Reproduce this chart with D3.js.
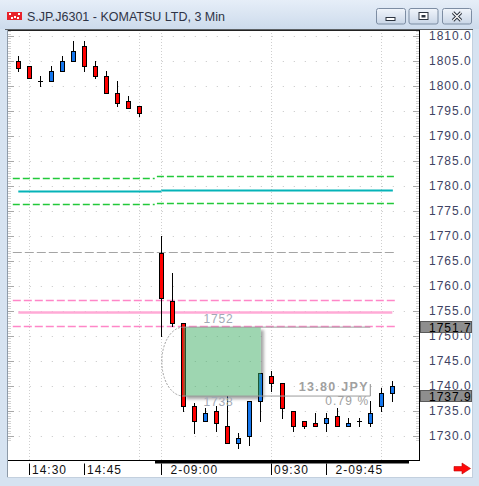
<!DOCTYPE html>
<html>
<head>
<meta charset="utf-8">
<script src="https://cdn.jsdelivr.net/npm/d3@7"></script>
<style>
  html, body { margin: 0; padding: 0; background: #d6e3f1; overflow: hidden; }
  svg { display: block; }
  text { font-family: "Liberation Sans", Arial, sans-serif; }
</style>
</head>
<body>
<svg id="chart" width="479" height="486"></svg>
<script>
// ---- data -------------------------------------------------------------
const windowTitle = "S.JP.J6301 - KOMATSU LTD, 3 Min";

// slot index of each 3-minute bar; slot 12 is the overnight break
const barSlots = [0,1,2,3,4,5,6,7,8,9,10,11,
                  13,14,15,16,17,18,19,20,21,22,23,24,25,26,27,28,29,30,31,32,33,34];
const barOpen  = [1805,1804,1801,1801,1803,1805,1808,1804,1802,1798.5,1797,1796,
                  1766.5,1757,1752.5,1736,1733,1735,1732,1728.5,1730,1737,1742,1740.5,1735,1733,1732.5,1732.5,1734,1732,1733,1732.5,1736,1738.5];
const barHigh  = [1806,1804,1802,1804,1806,1809,1809,1805,1803,1801,1798,1796,
                  1770,1762.5,1752.5,1736.5,1735.5,1736,1738,1730.5,1737,1742.5,1743,1740.5,1735,1733,1734.5,1734.5,1735.5,1733.5,1733.5,1737,1739.5,1741];
const barLow   = [1803,1801.5,1800,1801,1803,1805,1803,1801.5,1798.5,1796,1795.5,1794,
                  1750,1752,1735,1730.5,1733,1731,1728.5,1727.5,1728,1733,1739,1733.5,1731,1731.5,1732,1731,1732,1732,1732,1732,1735,1737];
const barClose = [1803.5,1801.5,1801,1803,1805,1807,1804,1802,1798.5,1796.5,1795.5,1794.5,
                  1757.5,1752.5,1736,1733,1734.5,1732.5,1728.5,1729.5,1737,1742.5,1740.5,1735.5,1732,1732,1732,1733.5,1732,1732.5,1733,1734.5,1738.5,1740];

// price axis
const priceTicks = d3.range(1730, 1810.01, 5);
const priceMinor = d3.range(1729, 1811.01, 0.5);

// time axis
const timeTickSlots  = [1, 6, 13, 23, 28];
const timeTickLabels = ["14:30", "14:45", "2-09:00", "09:30", "2-09:45"];
const timeGridSlots  = [1, 11, 13, 23, 33];

// study lines: value, slot span, kind
const levelValues = [1781.6, 1781.9, 1779.0, 1779.25, 1776.4, 1776.6, 1766.7, 1757.1, 1754.7, 1752.0];
const levelFrom   = [-0.5, 12.6, 0, 13, -0.5, 12.6, -0.5, -0.5, 0, -0.5];
const levelTo     = [12.4, 34.4, 13, 34.05, 12.4, 34.4, 34.4, 34.4, 34, 34.4];
const levelKinds  = ["band", "band", "mid", "mid", "band", "band", "gray", "pink", "pinkSolid", "pink"];

// price-range measurement
const measureHigh = 1751.7;
const measureLow = 1737.9;
const measureFromSlot = 15;
const measureBoxToSlot = 22;
const measureLineToSlot = 32;

// ---- layout -------------------------------------------------------------
const W = 479, H = 486;
const plot = { left: 8, right: 419, top: 30, bottom: 460 };

const svg = d3.select("#chart");
const x = d3.scaleLinear().domain([0, 34]).range([18.3, 392.3]);
const y = d3.scaleLinear().domain([1730, 1810]).range([435.5, 36]);
const px = v => Math.round(x(v));
const py = v => Math.round(y(v));

const defs = svg.append("defs");
const tg = defs.append("linearGradient").attr("id", "titleGrad").attr("x1", 0).attr("y1", 0).attr("x2", 0).attr("y2", 1);
tg.append("stop").attr("offset", "0%").attr("stop-color", "#e6eef8");
tg.append("stop").attr("offset", "100%").attr("stop-color", "#cddbec");
const bg = defs.append("linearGradient").attr("id", "btnGrad").attr("x1", 0).attr("y1", 0).attr("x2", 0).attr("y2", 1);
bg.append("stop").attr("offset", "0%").attr("stop-color", "#f1f5fb");
bg.append("stop").attr("offset", "100%").attr("stop-color", "#c9d6e7");
defs.append("filter").attr("id", "soft").attr("x", "-20%").attr("y", "-20%").attr("width", "140%").attr("height", "140%")
  .append("feGaussianBlur").attr("stdDeviation", 1.6);
defs.append("clipPath").attr("id", "plotClip")
  .append("rect").attr("x", plot.left).attr("y", plot.top).attr("width", plot.right - plot.left).attr("height", plot.bottom - plot.top);

// window frame
svg.append("rect").attr("width", W).attr("height", H).attr("fill", "#d6e3f1");
svg.append("rect").attr("width", W).attr("height", 29).attr("fill", "url(#titleGrad)");
svg.append("rect").attr("x", 8).attr("y", 30).attr("width", 464).attr("height", 447).attr("fill", "#ffffff");
svg.append("line").attr("x1", 5).attr("x2", 473).attr("y1", 29.5).attr("y2", 29.5).attr("stroke", "#5e6266");
svg.append("line").attr("x1", 7.5).attr("x2", 7.5).attr("y1", 30).attr("y2", 477).attr("stroke", "#8d9aa8");
svg.append("line").attr("x1", 472.5).attr("x2", 472.5).attr("y1", 30).attr("y2", 477).attr("stroke", "#c3d0de");
svg.append("line").attr("x1", 7).attr("x2", 473).attr("y1", 477.5).attr("y2", 477.5).attr("stroke", "#c3d0de");

// ---- grid -----------------------------------------------------------------
const grid = svg.append("g").attr("clip-path", "url(#plotClip)");
grid.selectAll("line.hgrid").data(priceTicks).join("line")
  .attr("class", "hgrid")
  .attr("x1", x(-1) + 0.5).attr("x2", plot.right)
  .attr("y1", d => py(d) + 0.5).attr("y2", d => py(d) + 0.5)
  .attr("stroke", "#c4c4c4").attr("stroke-dasharray", "1,10");
grid.selectAll("line.vgrid").data(timeGridSlots).join("line")
  .attr("class", "vgrid")
  .attr("x1", d => px(d) + 0.5).attr("x2", d => px(d) + 0.5)
  .attr("y1", plot.top).attr("y2", plot.bottom)
  .attr("stroke", "#cfcfcf").attr("stroke-dasharray", "1,2");

// edge scale ticks
const edgeTicks = svg.append("g");
[[plot.left, 1], [plot.right, -1]].forEach(([ex, dir]) => {
  edgeTicks.selectAll(null).data(priceMinor).join("line")
    .attr("x1", ex).attr("x2", d => ex + dir * (d % 5 === 0 ? 6 : 3))
    .attr("y1", d => py(d) + 0.5).attr("y2", d => py(d) + 0.5)
    .attr("stroke", d => d % 5 === 0 ? "#a8a8a8" : "#d2d2d2");
});

// ---- study lines ------------------------------------------------------------
const levelStyle = {
  band:      { stroke: "#22c93a", width: 1.3, dash: "7,3" },
  mid:       { stroke: "#05b3b8", width: 2.2, dash: null },
  gray:      { stroke: "#a4a4a4", width: 1.2, dash: "9,3" },
  pink:      { stroke: "#ff86c8", width: 1.3, dash: "8,3" },
  pinkSolid: { stroke: "#ffaad6", width: 2.4, dash: null }
};
svg.append("g").selectAll("line").data(levelValues.map((v, i) => ({ v, a: levelFrom[i], b: levelTo[i], k: levelKinds[i] })))
  .join("line")
  .attr("x1", d => x(d.a)).attr("x2", d => x(d.b))
  .attr("y1", d => py(d.v) + 0.5).attr("y2", d => py(d.v) + 0.5)
  .attr("stroke", d => levelStyle[d.k].stroke)
  .attr("stroke-width", d => levelStyle[d.k].width)
  .attr("stroke-dasharray", d => levelStyle[d.k].dash);

// ---- measurement box geometry -------------------------------------------------
const bx0 = x(measureFromSlot), bx1 = x(measureBoxToSlot) + 0.5;
const by0 = y(measureHigh), by1 = y(measureLow);

// soft shadow, kept outside the box itself
defs.append("clipPath").attr("id", "outsideBox").append("path")
  .attr("clip-rule", "evenodd")
  .attr("d", `M0,0H${W}V${H}H0Z M${bx0},${by0}H${bx1}V${by1}H${bx0}Z`);
svg.append("g").attr("clip-path", "url(#outsideBox)")
  .append("rect")
  .attr("x", bx0 + 3).attr("y", by0 + 3).attr("width", bx1 - bx0).attr("height", by1 - by0)
  .attr("fill", "#8a8a8a").attr("opacity", 0.75).attr("filter", "url(#soft)");

// ---- candles --------------------------------------------------------------------
const bars = barSlots.map((s, i) => ({ s, o: barOpen[i], h: barHigh[i], l: barLow[i], c: barClose[i] }));
const upColor = "#1677ee", downColor = "#ff0000";
const cg = svg.append("g").attr("shape-rendering", "crispEdges");
cg.selectAll("line.wick").data(bars).join("line")
  .attr("class", "wick")
  .attr("x1", d => px(d.s) + 0.5).attr("x2", d => px(d.s) + 0.5)
  .attr("y1", d => py(d.h)).attr("y2", d => py(d.l) + 1)
  .attr("stroke", "#000");
cg.selectAll("rect.body").data(bars.filter(d => d.o !== d.c)).join("rect")
  .attr("class", "body")
  .attr("x", d => px(d.s) - 1.5).attr("width", 4)
  .attr("y", d => py(Math.max(d.o, d.c)) + 0.5)
  .attr("height", d => Math.max(1, py(Math.min(d.o, d.c)) - py(Math.max(d.o, d.c))))
  .attr("fill", d => d.c > d.o ? upColor : downColor)
  .attr("stroke", "#000");
cg.selectAll("line.doji").data(bars.filter(d => d.o === d.c)).join("line")
  .attr("class", "doji")
  .attr("x1", d => px(d.s) - 2).attr("x2", d => px(d.s) + 3)
  .attr("y1", d => py(d.o) + 0.5).attr("y2", d => py(d.o) + 0.5)
  .attr("stroke", "#000");

// ---- measurement overlay -----------------------------------------------------------
svg.append("rect")
  .attr("x", bx0).attr("y", by0).attr("width", bx1 - bx0).attr("height", by1 - by0)
  .attr("fill", "rgb(61,173,99)").attr("fill-opacity", 0.5);
[measureHigh, measureLow].forEach(v => {
  svg.append("line")
    .attr("x1", bx0).attr("x2", x(measureLineToSlot))
    .attr("y1", y(v)).attr("y2", y(v))
    .attr("stroke", "#9c9c9c").attr("stroke-width", 1);
});
svg.append("line")
  .attr("x1", x(measureLineToSlot)).attr("x2", x(measureLineToSlot))
  .attr("y1", by1 - 12).attr("y2", by1)
  .attr("stroke", "#8c8c8c");
svg.append("path")
  .attr("d", `M${bx0},${by0} A21.5,${(by1 - by0) / 2} 0 0 0 ${bx0},${by1}`)
  .attr("fill", "none").attr("stroke", "#a0a0a0").attr("stroke-dasharray", "2,1.5");

const bxMid = (bx0 + bx1) / 2 - 3.5;
svg.append("text").attr("x", bxMid).attr("y", by0 - 4.5)
  .attr("text-anchor", "middle").attr("font-size", 12).attr("letter-spacing", 0.8)
  .attr("fill", "#a2a9b6").text(d3.format(".0f")(measureHigh));
svg.append("text").attr("x", bxMid).attr("y", by1 + 10)
  .attr("text-anchor", "middle").attr("font-size", 12).attr("letter-spacing", 0.8)
  .attr("fill", "#a2a9b6").text(d3.format(".0f")(measureLow));
const diff = measureHigh - measureLow;
svg.append("text").attr("x", x(measureLineToSlot) - 1.5).attr("y", by1 - 5.5)
  .attr("text-anchor", "end").attr("font-size", 12.5).attr("font-weight", "bold").attr("letter-spacing", 1.3)
  .attr("fill", "#a0a0a0").text(`${diff.toFixed(2)} JPY`);
svg.append("text").attr("x", x(measureLineToSlot) - 1).attr("y", by1 + 9)
  .attr("text-anchor", "end").attr("font-size", 12).attr("letter-spacing", 1.1)
  .attr("fill", "#a0a0a0").text(`${(diff / measureHigh * 100).toFixed(2)} %`);

// ---- frame and axes -------------------------------------------------------------------
svg.append("line").attr("x1", plot.left).attr("x2", plot.right).attr("y1", plot.top + 0.5).attr("y2", plot.top + 0.5).attr("stroke", "#222");
svg.append("line").attr("x1", plot.right + 0.5).attr("x2", plot.right + 0.5).attr("y1", plot.top).attr("y2", plot.bottom + 1).attr("stroke", "#000");
svg.append("line").attr("x1", plot.left).attr("x2", plot.right).attr("y1", plot.bottom + 0.5).attr("y2", plot.bottom + 0.5).attr("stroke", "#000");
svg.append("rect").attr("x", 155).attr("y", plot.bottom).attr("width", 254).attr("height", 3.5).attr("fill", "#000");

// price labels
svg.append("g").selectAll("text").data(priceTicks).join("text")
  .attr("x", 429).attr("y", d => y(d) + 4.3)
  .attr("font-size", 12).attr("letter-spacing", 1)
  .attr("fill", "#3e4262")
  .text(d => d3.format(".1f")(d));

// last-value tags
[measureHigh, measureLow].forEach(v => {
  const g = svg.append("g");
  g.append("rect").attr("x", 420.5).attr("y", Math.round(y(v)) - 5.5).attr("width", 51).attr("height", 11)
    .attr("fill", "#8e8e8e").attr("stroke", "#5a5a5a");
  g.append("text").attr("x", 429).attr("y", Math.round(y(v)) + 4.5)
    .attr("font-size", 12).attr("letter-spacing", 1).attr("fill", "#000")
    .text(d3.format(".1f")(v));
});

// time axis
const tAxis = svg.append("g");
tAxis.selectAll("line").data(timeTickSlots).join("line")
  .attr("x1", d => px(d) + 0.5).attr("x2", d => px(d) + 0.5)
  .attr("y1", 463.5).attr("y2", 475)
  .attr("stroke", "#000");
tAxis.selectAll("text").data(timeTickSlots).join("text")
  .attr("x", (d, i) => px(d) + (timeTickLabels[i].includes("-") ? 9.5 : 3))
  .attr("y", 474)
  .attr("font-size", 12).attr("letter-spacing", 1).attr("fill", "#111")
  .text((d, i) => timeTickLabels[i]);

// scroll arrow
svg.append("path")
  .attr("d", "M454,466.5H462V463L470.5,468.5L462,474V471H454Z")
  .attr("fill", "#ff0a0a").attr("stroke", "#c00000").attr("stroke-width", 0.6);

// ---- title bar ---------------------------------------------------------------------------
const icon = svg.append("g");
icon.append("rect").attr("x", 7).attr("y", 12).attr("width", 15).attr("height", 8).attr("fill", "#e8232b");
[[9, 13], [14, 16], [18, 13], [11, 17], [17, 17]].forEach(([ix, iy]) =>
  icon.append("rect").attr("x", ix).attr("y", iy).attr("width", 2).attr("height", 2).attr("fill", "#ffffff"));
svg.append("text").attr("x", 27).attr("y", 20.5)
  .attr("font-size", 12.5).attr("fill", "#2f3446").text(windowTitle);

const btnX = [376, 408.5, 442];
btnX.forEach((bxp, i) => {
  const g = svg.append("g");
  g.append("rect").attr("x", bxp + 0.5).attr("y", 8.5).attr("width", 29).attr("height", 15.5).attr("rx", 2)
    .attr("fill", "url(#btnGrad)").attr("stroke", "#7d8da3");
  const cx = bxp + 15;
  if (i === 0) {
    g.append("rect").attr("x", cx - 5).attr("y", 17.5).attr("width", 9).attr("height", 3).attr("fill", "#fff").attr("stroke", "#2c3440");
  } else if (i === 1) {
    g.append("rect").attr("x", cx - 4.5).attr("y", 12.5).attr("width", 9).attr("height", 7).attr("fill", "#fff").attr("stroke", "#2c3440");
    g.append("rect").attr("x", cx - 2).attr("y", 15).attr("width", 4).attr("height", 2.5).attr("fill", "#2c3440");
  } else {
    g.append("path").attr("d", `M${cx - 4},${12.5}L${cx + 4},${20.5}M${cx + 4},${12.5}L${cx - 4},${20.5}`)
      .attr("stroke", "#2c3440").attr("stroke-width", 3.2).attr("stroke-linecap", "butt");
    g.append("path").attr("d", `M${cx - 4},${12.5}L${cx + 4},${20.5}M${cx + 4},${12.5}L${cx - 4},${20.5}`)
      .attr("stroke", "#ffffff").attr("stroke-width", 1.2);
  }
});
</script>
</body>
</html>
